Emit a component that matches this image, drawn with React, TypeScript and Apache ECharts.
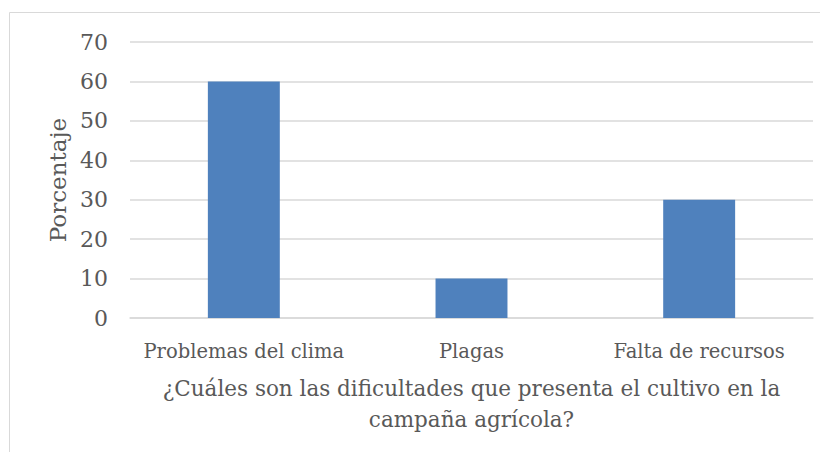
import React, { useEffect, useRef } from "react";
import * as echarts from "echarts";

const categories = ["Problemas del clima", "Plagas", "Falta de recursos"];
const values = [60, 10, 30];
const yTicks = { min: 0, max: 70, interval: 10 };
const xTitle = "¿Cuáles son las dificultades que presenta el cultivo en la\ncampaña agrícola?";
const yTitle = "Porcentaje";

const FONT = "DejaVu Serif";
const TEXT = "#595959";

export default function App() {
  const ref = useRef<HTMLDivElement>(null);
  useEffect(() => {
    const chart = echarts.init(ref.current!, null, { renderer: "svg" });
    chart.setOption({
      animation: false,
      backgroundColor: "#ffffff",
      textStyle: { fontFamily: FONT, color: TEXT },
      graphic: [
        {
          type: "rect",
          shape: { x: 9.5, y: 12.5, width: 900, height: 600 },
          style: { fill: "none", stroke: "#D9D9D9", lineWidth: 1 },
          silent: true,
          z: -1,
        },
      ],
      grid: { left: 130, right: 15, top: 42, bottom: 142, containLabel: false },
      xAxis: {
        type: "category",
        data: categories,
        name: xTitle,
        nameLocation: "middle",
        nameGap: 55,
        nameTextStyle: { fontFamily: FONT, color: TEXT, fontSize: 21.5, lineHeight: 31 },
        axisLine: { show: true, lineStyle: { color: "#D9D9D9", width: 1.5 } },
        axisTick: { show: false },
        axisLabel: {
          fontFamily: FONT,
          color: TEXT,
          fontSize: 19.5,
          margin: 23,
          interval: 0,
          hideOverlap: false,
        },
      },
      yAxis: {
        type: "value",
        min: yTicks.min,
        max: yTicks.max,
        interval: yTicks.interval,
        name: yTitle,
        nameLocation: "middle",
        nameGap: 51,
        nameRotate: 90,
        nameTextStyle: { fontFamily: FONT, color: TEXT, fontSize: 23 },
        axisLine: { show: false },
        axisTick: { show: false },
        axisLabel: { fontFamily: FONT, color: TEXT, fontSize: 22, margin: 22 },
        splitLine: { lineStyle: { color: "#D9D9D9", width: 1.5 } },
      },
      series: [
        {
          type: "bar",
          data: values,
          barWidth: "31.6%",
          itemStyle: { color: "#4F81BD" },
        },
      ],
    });
    return () => chart.dispose();
  }, []);
  return <div ref={ref} style={{ width: 828, height: 460, margin: -8 }} />;
}
